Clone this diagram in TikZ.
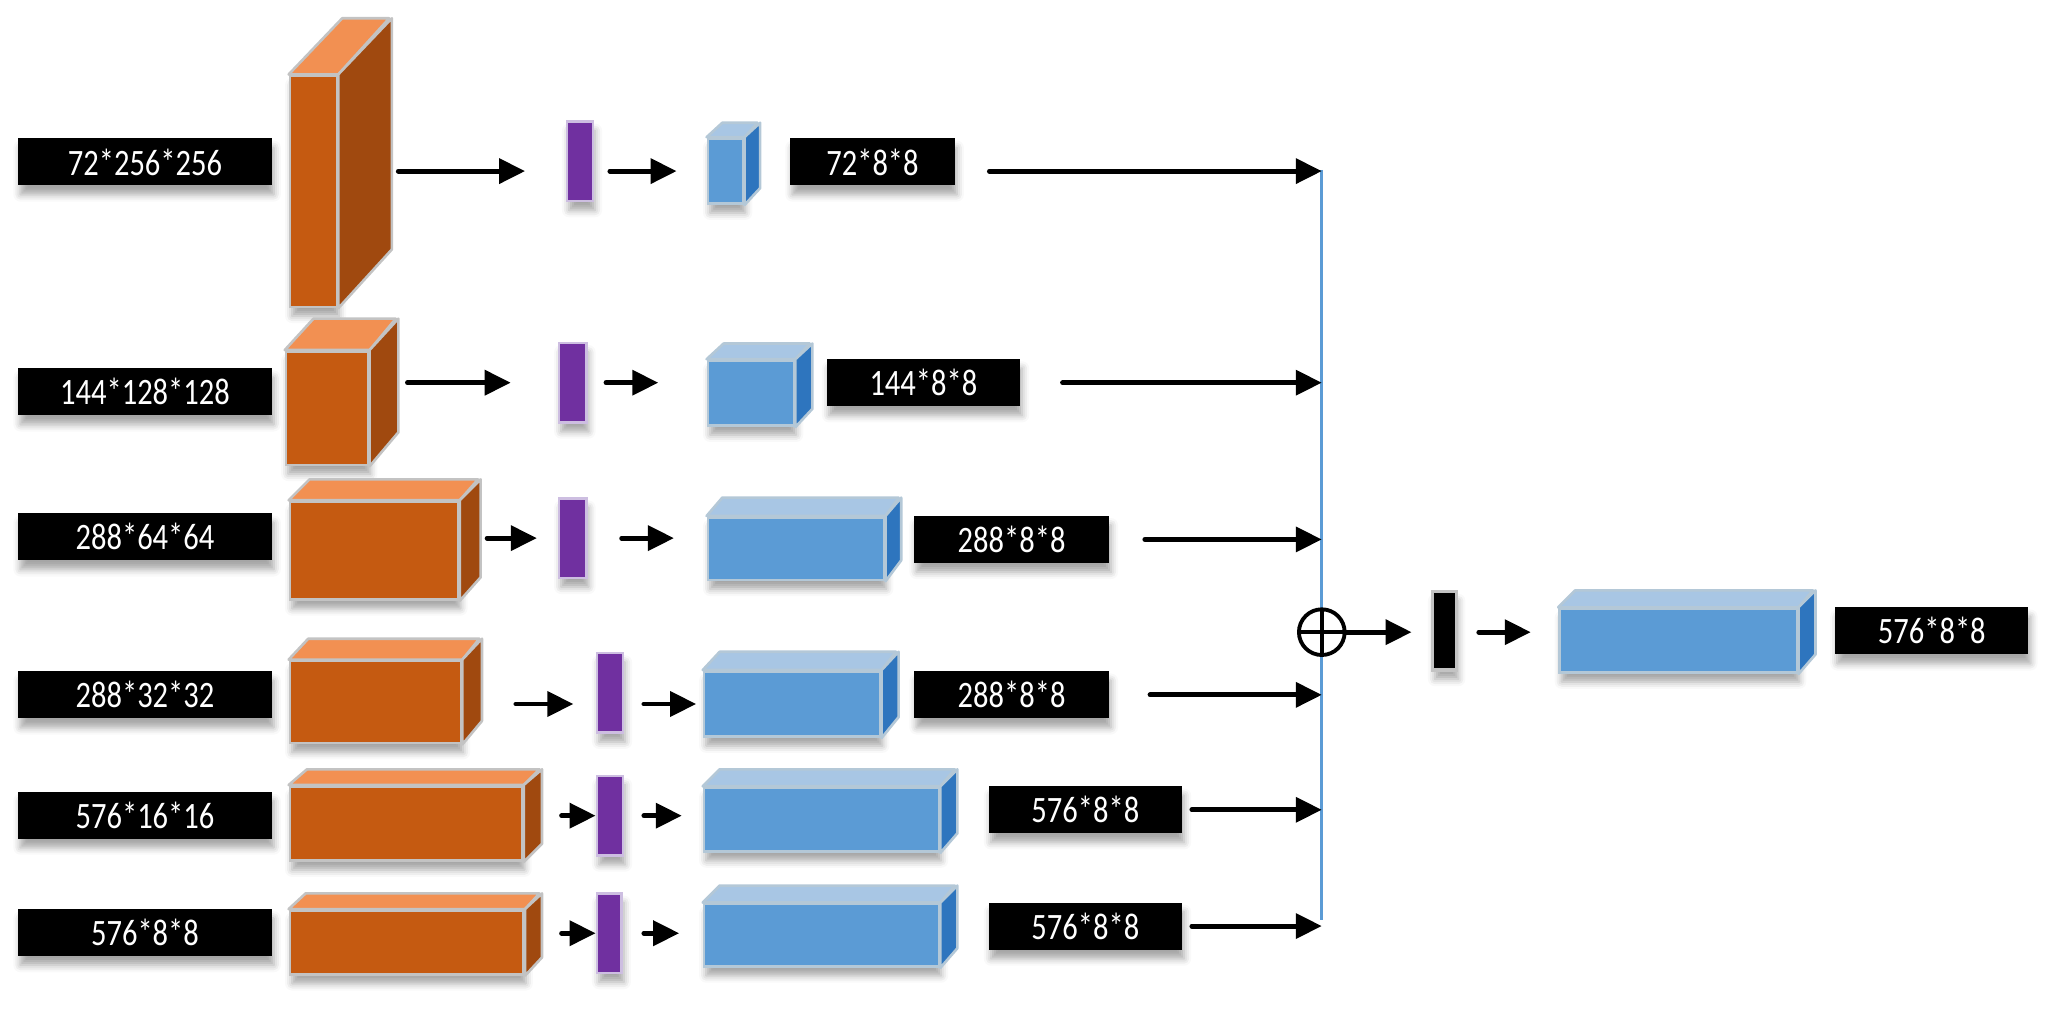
\documentclass[tikz,border=0pt]{standalone}
\usepackage{fontspec}
\usepackage{tikz}
\usetikzlibrary{arrows.meta, shadows.blur}
\newfontfamily\labelfont{Carlito}[FakeStretch=0.82]
\definecolor{boxOrange}{RGB}{197, 90, 17}
\definecolor{topOrange}{RGB}{242, 144, 82}
\definecolor{sideOrange}{RGB}{160, 73, 15}
\definecolor{boxBlue}{RGB}{91, 155, 213}
\definecolor{topBlue}{RGB}{168, 198, 228}
\definecolor{sideBlue}{RGB}{46, 117, 190}
\definecolor{barPurple}{RGB}{112, 48, 160}
\definecolor{barEdge}{RGB}{205, 190, 225}
\definecolor{edgeGray}{RGB}{195, 195, 195}
\definecolor{edgeBlue}{RGB}{180, 200, 215}
\newdimen\pxu \pxu=0.0130612cm

\tikzset{
  softshadow/.style={blur shadow={shadow xshift=0.6pt, shadow yshift=-2.6pt,
    shadow blur radius=2pt, shadow opacity=35}},
  dimlabel/.style={fill=black, text=white, inner sep=0pt, minimum width=#1*\pxu,
    minimum height=36*\pxu, font=\labelfont\fontsize{10.6}{12}\selectfont, softshadow},
  dimlabel/.default=148,
  orange front/.style={draw=edgeGray, line width=0.74pt, fill=boxOrange, inner sep=0pt, softshadow},
  orange top/.style={draw=edgeGray, line width=0.74pt, fill=topOrange, line join=round},
  orange side/.style={draw=edgeGray, line width=0.74pt, fill=sideOrange, line join=round},
  blue front/.style={draw=edgeBlue, line width=0.74pt, fill=boxBlue, inner sep=0pt, softshadow},
  blue top/.style={draw=edgeBlue, line width=0.74pt, fill=topBlue, line join=round},
  blue side/.style={draw=edgeBlue, line width=0.74pt, fill=sideBlue, line join=round},
  bar/.style={draw=barEdge, line width=0.74pt, fill=barPurple, inner sep=0pt,
    minimum width=20*\pxu, minimum height=61*\pxu, softshadow},
  arr/.style={line width=1.4pt, line cap=round, -{Triangle[length=7.4pt, width=7pt]}},
  oplus/.style={circle, draw, line width=1.1pt, fill=white, inner sep=0pt, minimum size=35*\pxu,
    path picture={\draw[line width=1.1pt] (path picture bounding box.north) -- (path picture bounding box.south)
      (path picture bounding box.west) -- (path picture bounding box.east);}}
}

% name, x, y (top left of front), width, height, dx, dy, colour
\newcommand{\cuboid}[8]{%
  \node[#8 front, anchor=north west, minimum width=#4*\pxu, minimum height=#5*\pxu] (#1) at (#2,#3) {};
  \draw[#8 top] (#1.north west) -- ++(#6,-#7) -- ++(#4,0) -- (#1.north east) -- cycle;
  \draw[#8 side] (#1.north east) -- ++(#6,-#7) -- ++(0,#5) -- (#1.south east) -- cycle;
}

\begin{document}
\begin{tikzpicture}[x=\pxu, y={(0pt,-\pxu)}]
  \useasboundingbox (0,0) rectangle (1568,790);

  % input sizes
  \node[dimlabel=194] (l1) at (111,124) {72*256*256};
  \node[dimlabel=194] (l2) at (111,300) {144*128*128};
  \node[dimlabel=194] (l3) at (111,411) {288*64*64};
  \node[dimlabel=194] (l4) at (111,532) {288*32*32};
  \node[dimlabel=194] (l5) at (111,624) {576*16*16};
  \node[dimlabel=194] (l6) at (111,714) {576*8*8};

  % feature maps
  \cuboid{o1}{221}{57}{36}{177}{41}{43}{orange}
  \cuboid{o2}{218}{268}{63}{87}{22}{24}{orange}
  \cuboid{o3}{221}{383}{129}{75}{16}{16}{orange}
  \cuboid{o4}{221}{505}{131}{63}{15}{16}{orange}
  \cuboid{o5}{221}{601}{178}{57}{14}{12}{orange}
  \cuboid{o6}{221}{696}{179}{49}{13}{12}{orange}

  \node[bar] (p1) at (444,123.5) {};
  \node[bar, minimum width=21*\pxu] (p2) at (438.5,293) {};
  \node[bar, minimum width=21*\pxu] (p3) at (438.5,412) {};
  \node[bar] (p4) at (467,530.5) {};
  \node[bar] (p5) at (467,624.5) {};
  \node[bar, minimum width=19*\pxu] (p6) at (466.5,714.5) {};

  \cuboid{b1}{541}{105}{27}{50}{12}{11}{blue}
  \cuboid{b2}{541}{275}{66}{50}{13}{12}{blue}
  \cuboid{b3}{541}{395}{135}{48}{12}{14}{blue}
  \cuboid{b4}{538}{513}{135}{50}{13}{14}{blue}
  \cuboid{b5}{538}{602}{180}{49}{13}{13}{blue}
  \cuboid{b6}{538}{691}{180}{48}{13}{13}{blue}

  \node[dimlabel=126] (r1) at (668,124) {72*8*8};
  \node[dimlabel] (r2) at (707,293) {144*8*8};
  \node[dimlabel=149] (r3) at (774.5,413) {288*8*8};
  \node[dimlabel=149] (r4) at (774.5,532) {288*8*8};
  \node[dimlabel] (r5) at (831,620) {576*8*8};
  \node[dimlabel] (r6) at (831,709) {576*8*8};

  \foreach \o/\p/\b/\y/\sa/\sb/\sc/\sd in {o1/p1/b1/b1/46/31/12/23, o2/p2/b2/p2/29/36/14/37,
      o3/p3/b3/p3/21/16/26/25, o4/p4/b4/b4/41/17/15/5, o5/p5/b5/p5/29/0/15/16, o6/p6/b6/p6/28/0/16/18}
  {
    \draw[arr, shorten <=\sa*\pxu, shorten >=\sb*\pxu] (\o.east |- \y) -- (\p.west |- \y);
    \draw[arr, shorten <=\sc*\pxu, shorten >=\sd*\pxu] (\p.east |- \y) -- (\b.west |- \y);
  }

  % concatenation
  \coordinate (bustop) at (1012,130);
  \coordinate (busbot) at (1012,704);
  \draw[boxBlue, line width=0.93pt] (bustop) -- (busbot);
  \foreach \r/\y/\s in {r1/b1/26, r2/r2/32, r3/r3/27, r4/r4/31, r5/r5/7, r6/r6/7}
    \draw[arr, shorten <=\s*\pxu] (\r.east |- \y) -- (\y -| bustop);

  \node[oplus] (sum) at (1012,484) {};
  \node[draw=edgeGray, line width=0.93pt, fill=black, inner sep=0pt, minimum width=18*\pxu,
    minimum height=60*\pxu, softshadow] (pool) at (1106,483) {};
  \cuboid{bout}{1193}{465}{182}{49}{13}{13}{blue}
  \node[dimlabel] (rout) at (1479,483) {576*8*8};

  \draw[arr, shorten >=15*\pxu] (sum.east) -- (pool.west |- sum);
  \draw[arr, shorten <=16*\pxu, shorten >=21*\pxu] (pool.east |- sum) -- (bout.west |- sum);
\end{tikzpicture}
\end{document}
